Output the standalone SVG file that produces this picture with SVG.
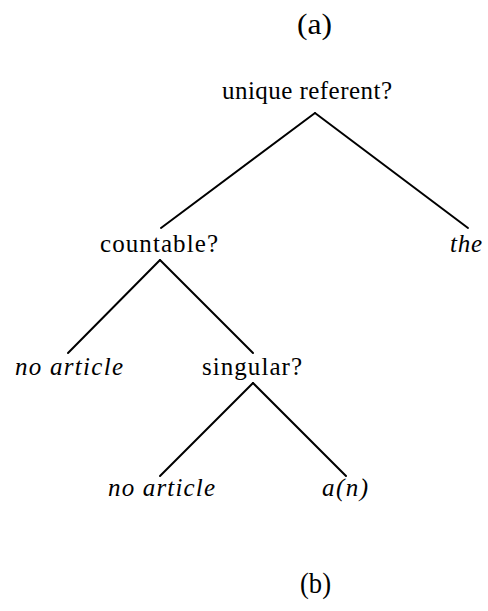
<svg xmlns="http://www.w3.org/2000/svg" width="488" height="611" viewBox="0 0 488 611">
<style>
text{font-family:"Liberation Serif","DejaVu Serif",serif;font-size:25px;fill:#000}
.it{font-style:italic}
.cap{font-size:29px}
.e{stroke:#000;stroke-width:2;fill:none;stroke-linecap:round}
</style>
<rect width="488" height="611" fill="#fff"/>
<text class="cap" x="297" y="34" textLength="35" lengthAdjust="spacingAndGlyphs">(a)</text>
<g id="connectors">
<line class="e" x1="315" y1="113" x2="161" y2="228"/>
<line class="e" x1="315" y1="113" x2="468" y2="228"/>
<line class="e" x1="160" y1="260" x2="68" y2="353"/>
<line class="e" x1="160" y1="260" x2="253" y2="353"/>
<line class="e" x1="253" y1="383" x2="160" y2="476"/>
<line class="e" x1="253" y1="383" x2="346" y2="476"/>
</g>
<g id="n-unique"><text x="222" y="99" textLength="170" lengthAdjust="spacing">unique referent?</text></g>
<g id="n-countable"><text x="100" y="252" textLength="118" lengthAdjust="spacing">countable?</text></g>
<g id="n-the"><text class="it" x="450" y="252" textLength="32" lengthAdjust="spacing">the</text></g>
<g id="n-noart1"><text class="it" x="15" y="375" textLength="108" lengthAdjust="spacing">no article</text></g>
<g id="n-singular"><text x="202" y="375" textLength="100" lengthAdjust="spacing">singular?</text></g>
<g id="n-noart2"><text class="it" x="108" y="496" textLength="107" lengthAdjust="spacing">no article</text></g>
<g id="n-an"><text class="it" x="322" y="496" textLength="46" lengthAdjust="spacing">a(n)</text></g>
<text class="cap" x="300" y="593" textLength="31" lengthAdjust="spacingAndGlyphs">(b)</text>
</svg>
